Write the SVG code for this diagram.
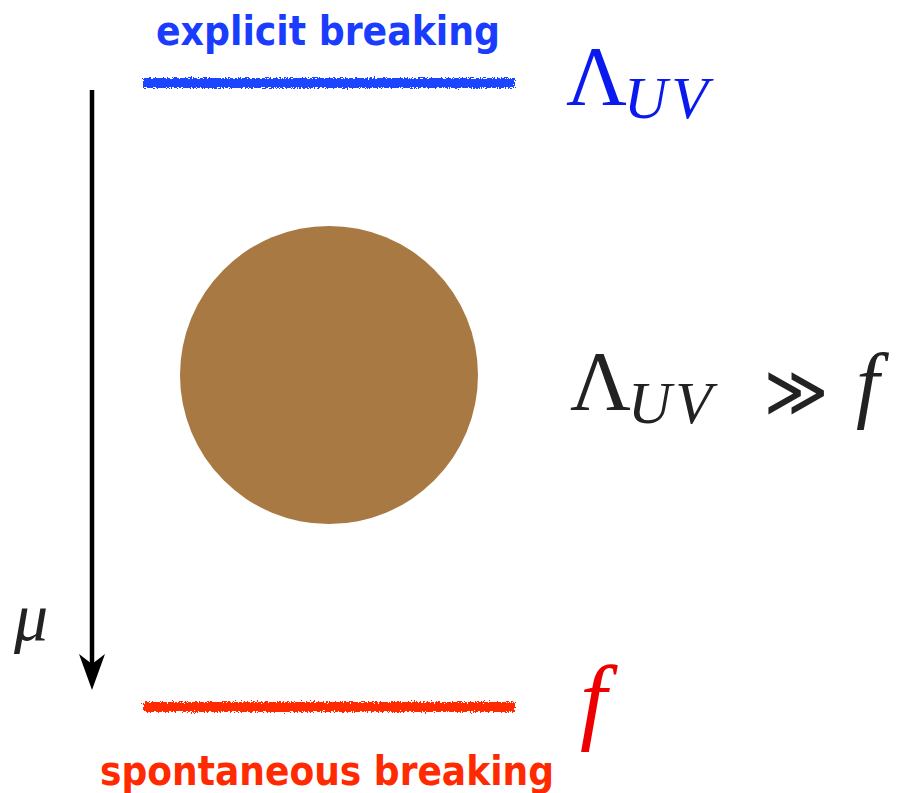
<svg xmlns="http://www.w3.org/2000/svg" width="905" height="793" viewBox="0 0 905 793">
<style>
.lbl{font-family:"DejaVu Sans","Liberation Sans",sans-serif;font-weight:bold;}
.math{font-family:"Liberation Serif","DejaVu Serif",serif;}
.it{font-style:italic;}
</style>
<defs>
<filter id="rough" x="-5%" y="-100%" width="110%" height="300%">
<feTurbulence type="fractalNoise" baseFrequency="0.7" numOctaves="2" seed="3" result="n"/>
<feDisplacementMap in="SourceGraphic" in2="n" scale="6" xChannelSelector="R" yChannelSelector="G"/>
</filter>
</defs>
<rect width="905" height="793" fill="#fff"/>
<g id="connectors">
<line x1="92" y1="90" x2="92" y2="670" stroke="#000" stroke-width="4.5"/>
<path d="M79,654 L92,690 L105,654 L92,664 Z" fill="#000"/>
</g>
<g id="explicit">
<text class="lbl" x="156" y="45" font-size="40" fill="#1a3cff" textLength="344" lengthAdjust="spacingAndGlyphs">explicit breaking</text>
<rect x="143" y="78" width="372" height="10" fill="#1a44ff" filter="url(#rough)"/>
</g>
<g id="lambda-uv">
<text class="math" x="566" y="105" font-size="84" fill="#0a1aee">Λ</text>
<text class="math it" x="624" y="118" font-size="60" fill="#0a1aee" letter-spacing="4">UV</text>
</g>
<g id="circle">
<circle cx="329" cy="375" r="149" fill="#a87943"/>
</g>
<g id="relation">
<text class="math" x="570" y="410" font-size="84" fill="#222">Λ</text>
<text class="math it" x="628" y="423" font-size="60" fill="#222" letter-spacing="4">UV</text>
<text x="764" y="416" font-size="72" fill="#222" font-family="DejaVu Sans, sans-serif" font-weight="200" textLength="64" lengthAdjust="spacingAndGlyphs">≫</text>
<text class="math it" x="856" y="412" font-size="84" fill="#222">f</text>
</g>
<g id="mu">
<text class="math it" x="14" y="640" font-size="68" fill="#222">μ</text>
</g>
<g id="spontaneous">
<rect x="143" y="702" width="372" height="10" fill="#ff2a00" filter="url(#rough)"/>
<text class="math it" x="580" y="732" font-size="96" fill="#ee0000">f</text>
<text class="lbl" x="100" y="785" font-size="40" fill="#ff2a00" textLength="454" lengthAdjust="spacingAndGlyphs">spontaneous breaking</text>
</g>
</svg>
